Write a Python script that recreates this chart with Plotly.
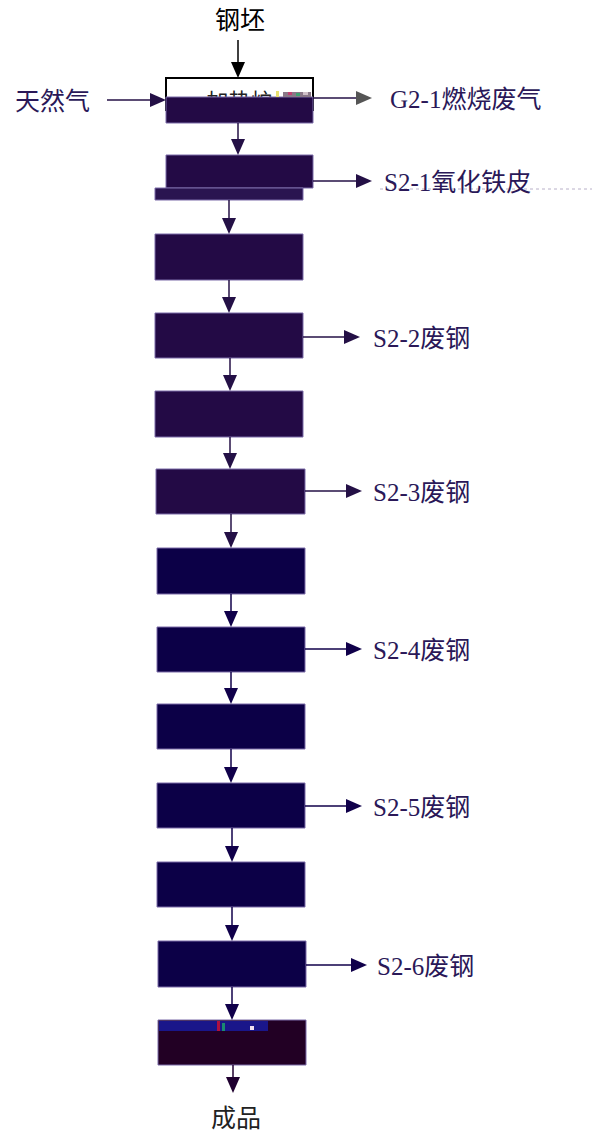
import plotly.graph_objects as go

# ---- content (text) ----
feed_label = "钢坯"
fuel_label = "天然气"
product_label = "成品"
step_labels = ["加热炉", "", "", "", "", "", "", "", "", "", "", "", ""]
output_labels = ["G2-1燃烧废气", "S2-1氧化铁皮", "S2-2废钢", "S2-3废钢",
                 "S2-4废钢", "S2-5废钢", "S2-6废钢"]
output_steps = [0, 1, 3, 5, 7, 9, 11]

# ---- layout geometry (pixels, y downward) ----
box_x0 = [166, 166, 155, 155, 155, 156, 157, 157, 157, 157, 157, 158, 158]
box_x1 = [313, 313, 303, 303, 303, 305, 305, 305, 305, 305, 305, 306, 306]
box_y0 = [97, 155, 234, 313, 391, 469, 548, 627, 704, 783, 862, 941, 1020]
box_y1 = [123, 188, 280, 358, 437, 514, 594, 672, 749, 828, 907, 987, 1065]
box_fill = ["#230a45"] * 6 + ["#0c0047"] * 6 + ["#220024"]
arrow_x = [238, 229, 229, 230, 230, 231, 231, 231, 231, 232, 232, 232]
out_y = [98, 181, 337, 491, 649, 806, 965]
out_end = [372, 372, 360, 362, 362, 362, 367]
out_text_x = [388, 382, 371, 371, 371, 371, 375]

W, H = 592, 1139
PURPLE = "#241046"
NAVY = "#10004a"
SERIF = "Liberation Serif, Noto Sans CJK SC, serif"
TXT = "#2a1858"

shapes = []
annotations = []


def vtri(x, ytip, color, w=7, h=16):
    return dict(type="path", path=f"M {x-w} {ytip-h} L {x+w} {ytip-h} L {x} {ytip} Z",
                fillcolor=color, line=dict(width=0), layer="above")


def htri(xtip, y, color, w=7, h=16):
    return dict(type="path", path=f"M {xtip-h} {y-w} L {xtip-h} {y+w} L {xtip} {y} Z",
                fillcolor=color, line=dict(width=0), layer="above")


def line(x0, y0, x1, y1, color, width=1.5, dash="solid"):
    return dict(type="line", x0=x0, y0=y0, x1=x1, y1=y1,
                line=dict(color=color, width=width, dash=dash), layer="above")


def patch(x0, x1, y0, y1, color):
    return dict(type="rect", x0=x0, x1=x1, y0=y0, y1=y1,
                fillcolor=color, line=dict(width=0), layer="above")


# furnace white top part (with black border)
shapes.append(dict(type="rect", x0=166, x1=313, y0=78, y1=110,
                   fillcolor="white", line=dict(color="black", width=2), layer="below"))

# process boxes
for i in range(len(box_y0)):
    shapes.append(dict(type="rect", x0=box_x0[i], x1=box_x1[i], y0=box_y0[i], y1=box_y1[i],
                       fillcolor=box_fill[i], line=dict(color="#7a6aa8", width=1), layer="above"))
# extra bar under second box
shapes.append(dict(type="rect", x0=155, x1=303, y0=188, y1=200,
                   fillcolor="#2a1450", line=dict(color="#7a6aa8", width=1), layer="above"))
# bottom box top strip
shapes.append(patch(159, 268, 1021, 1031, "#1a168a"))
shapes.append(patch(217, 220, 1021, 1031, "#b01040"))
shapes.append(patch(222, 225, 1023, 1031, "#1a8a70"))
shapes.append(patch(250, 254, 1026, 1030, "#f0e0f0"))
# small glitch patch on furnace label
shapes.append(patch(276, 279, 91, 97, "#e8e070"))
shapes.append(patch(283, 311, 92, 97, "#8a7888"))
shapes.append(patch(288, 292, 92, 95, "#c04070"))
shapes.append(patch(296, 300, 93, 96, "#40a070"))
shapes.append(patch(303, 308, 92, 95, "#d0c0c8"))

# feed arrow (black)
shapes.append(line(238, 40, 238, 70, "black"))
shapes.append(vtri(238, 78, "black"))

# vertical arrows between boxes
tops = [123, 200] + box_y1[2:]
for i, x in enumerate(arrow_x):
    col = PURPLE if i < 6 else NAVY
    y_start = tops[i]
    y_end = box_y0[i + 1]
    shapes.append(line(x, y_start, x, y_end - 8, col))
    shapes.append(vtri(x, y_end, col))
# final arrow
shapes.append(line(233, 1065, 233, 1085, "#200030"))
shapes.append(vtri(233, 1093, "#200030"))

# fuel input arrow
shapes.append(line(107, 100, 158, 100, PURPLE))
shapes.append(htri(166, 100, PURPLE))

# output arrows
for k, step in enumerate(output_steps):
    col = PURPLE if step < 6 else NAVY
    x0 = box_x1[step]
    shapes.append(line(x0, out_y[k], out_end[k] - 8, out_y[k], col))
    shapes.append(htri(out_end[k], out_y[k], "#555555" if k == 0 else col))
    annotations.append(dict(x=out_text_x[k], y=out_y[k] + 1, xref="x", yref="y",
                            text=output_labels[k], showarrow=False, xanchor="left",
                            yanchor="middle", font=dict(family=SERIF, size=25, color=TXT)))

# faint dotted line near S2-1
shapes.append(line(380, 189, 592, 189, "#b8b0c8", width=1, dash="dot"))

# labels
annotations.append(dict(x=240, y=20, xref="x", yref="y", text=feed_label, showarrow=False,
                        font=dict(family=SERIF, size=25, color="black")))
annotations.append(dict(x=52, y=101, xref="x", yref="y", text=fuel_label, showarrow=False,
                        font=dict(family=SERIF, size=25, color=TXT)))
annotations.append(dict(x=236, y=1118, xref="x", yref="y", text=product_label, showarrow=False,
                        font=dict(family=SERIF, size=25, color="#222222")))

fig = go.Figure()
# step name text (drawn beneath the boxes, as in the reference only its top shows)
fig.add_trace(go.Scatter(
    x=[(box_x0[i] + box_x1[i]) / 2 for i in range(len(step_labels))],
    y=[(box_y0[i] + box_y1[i]) / 2 - 7 if i == 0 else (box_y0[i] + box_y1[i]) / 2
       for i in range(len(step_labels))],
    mode="text", text=step_labels,
    textfont=dict(family=SERIF, size=22, color="#222222"),
    hoverinfo="skip", showlegend=False, cliponaxis=False))

fig.update_layout(
    width=W, height=H, margin=dict(l=0, r=0, t=0, b=0),
    paper_bgcolor="white", plot_bgcolor="white",
    xaxis=dict(range=[0, W], visible=False, fixedrange=True),
    yaxis=dict(range=[H, 0], visible=False, fixedrange=True),
    shapes=shapes, annotations=annotations, showlegend=False,
)
fig.write_html("out.html", config={"displayModeBar": False})

# remove the browser's default page margin so the figure sits at (0, 0)
with open("out.html", encoding="utf-8") as f:
    html = f.read()
html = html.replace("<body>", '<body style="margin:0;padding:0;overflow:hidden">', 1)
with open("out.html", "w", encoding="utf-8") as f:
    f.write(html)
